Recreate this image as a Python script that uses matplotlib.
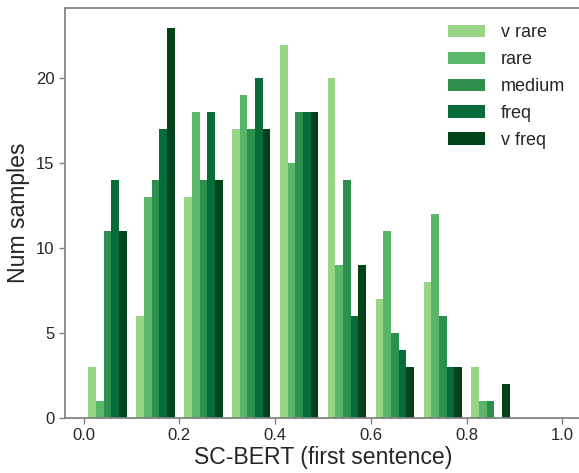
import matplotlib
matplotlib.use("Agg")
import matplotlib.pyplot as plt
import numpy as np

plt.rcParams['font.family'] = ['Liberation Sans', 'DejaVu Sans']

bins = [0.0, 0.1, 0.2, 0.3, 0.4, 0.5, 0.6, 0.7, 0.8, 0.9, 1.0]
labels = ["v rare", "rare", "medium", "freq", "v freq"]
v_rare = [3, 6, 13, 17, 22, 20, 7, 8, 3, 0]
rare = [1, 13, 18, 19, 15, 9, 11, 12, 1, 0]
medium = [11, 14, 14, 17, 18, 14, 5, 6, 1, 0]
freq = [14, 17, 18, 20, 18, 6, 4, 3, 0, 0]
v_freq = [11, 23, 14, 17, 18, 9, 3, 3, 2, 0]
colors = ["#98d586", "#5ab76a", "#2e8f4d", "#066c3a", "#00441c"]

counts = [v_rare, rare, medium, freq, v_freq]
centers = [(bins[i] + bins[i + 1]) / 2 for i in range(len(bins) - 1)]

fig = plt.figure(figsize=(5.79, 4.73), dpi=100)
ax = fig.add_axes([0.1123, 0.1163, 0.8912, 0.8667])

ax.hist([centers] * 5, bins=bins, weights=counts, color=colors, label=labels,
        histtype='bar')

for s in ax.spines.values():
    s.set_color('#808080')
    s.set_linewidth(1.25)
ax.tick_params(axis='both', colors='#808080', labelcolor='#262626',
               labelsize=12, length=4, width=1, direction='out')
ax.set_yticks([0, 5, 10, 15, 20])
ax.set_xticks([0.0, 0.2, 0.4, 0.6, 0.8, 1.0])
ax.set_xlabel("SC-BERT (first sentence)", fontsize=16.6, color='#262626', labelpad=2)
ax.set_ylabel("Num samples", fontsize=16.6, color='#262626', labelpad=4)

leg = ax.legend(loc='upper right', frameon=False, fontsize=13,
                handlelength=2.05, labelspacing=0.55, handletextpad=0.85)
for t in leg.get_texts():
    t.set_color('#262626')

fig.savefig("out.png", dpi=100)
